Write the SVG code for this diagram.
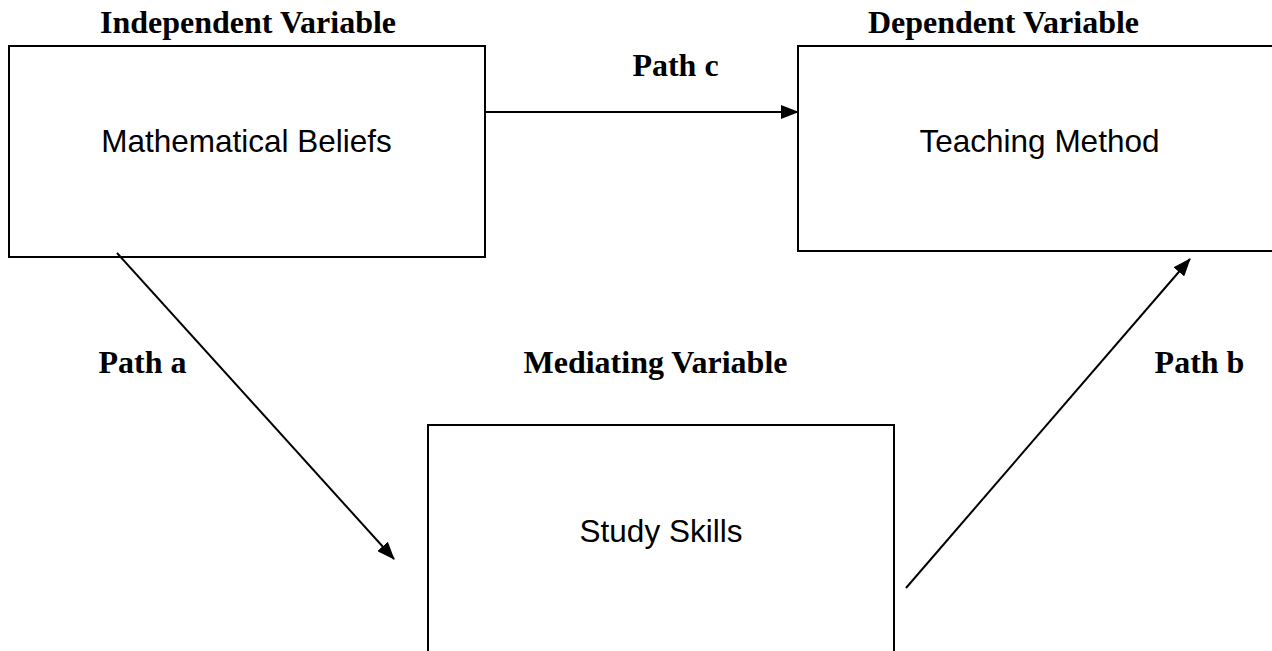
<svg xmlns="http://www.w3.org/2000/svg" width="1272" height="651" viewBox="0 0 1272 651">
<style>
.box{fill:#fff;stroke:#000;stroke-width:2}
.lbl{font-family:"Liberation Serif","Times New Roman",serif;font-weight:bold;font-size:32px;fill:#000;text-anchor:middle}
.txt{font-family:"Liberation Sans",Arial,sans-serif;font-size:31.5px;fill:#000;text-anchor:middle}
.edge{stroke:#000;stroke-width:2;fill:none;marker-end:url(#ah)}
</style>
<defs>
<marker id="ah" markerUnits="userSpaceOnUse" markerWidth="18" markerHeight="14" refX="17" refY="7" orient="auto">
<path d="M0,0 L18,7 L0,14 Z" fill="#000"/>
</marker>
</defs>
<rect width="1272" height="651" fill="#fff"/>
<g id="n-independent">
<text class="lbl" x="248" y="33">Independent Variable</text>
<rect class="box" x="9" y="46" width="476" height="211"/>
<text class="txt" x="246.5" y="152">Mathematical Beliefs</text>
</g>
<g id="n-dependent">
<text class="lbl" x="1003.5" y="33">Dependent Variable</text>
<rect class="box" x="798" y="46" width="480" height="205"/>
<text class="txt" x="1039.5" y="152">Teaching Method</text>
</g>
<g id="n-mediating">
<text class="lbl" x="655.5" y="373">Mediating Variable</text>
<rect class="box" x="428" y="425" width="466" height="240"/>
<text class="txt" x="661" y="542">Study Skills</text>
</g>
<g id="connectors">
<line class="edge" x1="485" y1="112" x2="798" y2="112"/>
<line class="edge" x1="117" y1="253" x2="394" y2="559"/>
<line class="edge" x1="906" y1="588" x2="1190" y2="259"/>
<text class="lbl" x="675.5" y="76">Path c</text>
<text class="lbl" x="142.5" y="373">Path a</text>
<text class="lbl" x="1199.5" y="373">Path b</text>
</g>
</svg>
